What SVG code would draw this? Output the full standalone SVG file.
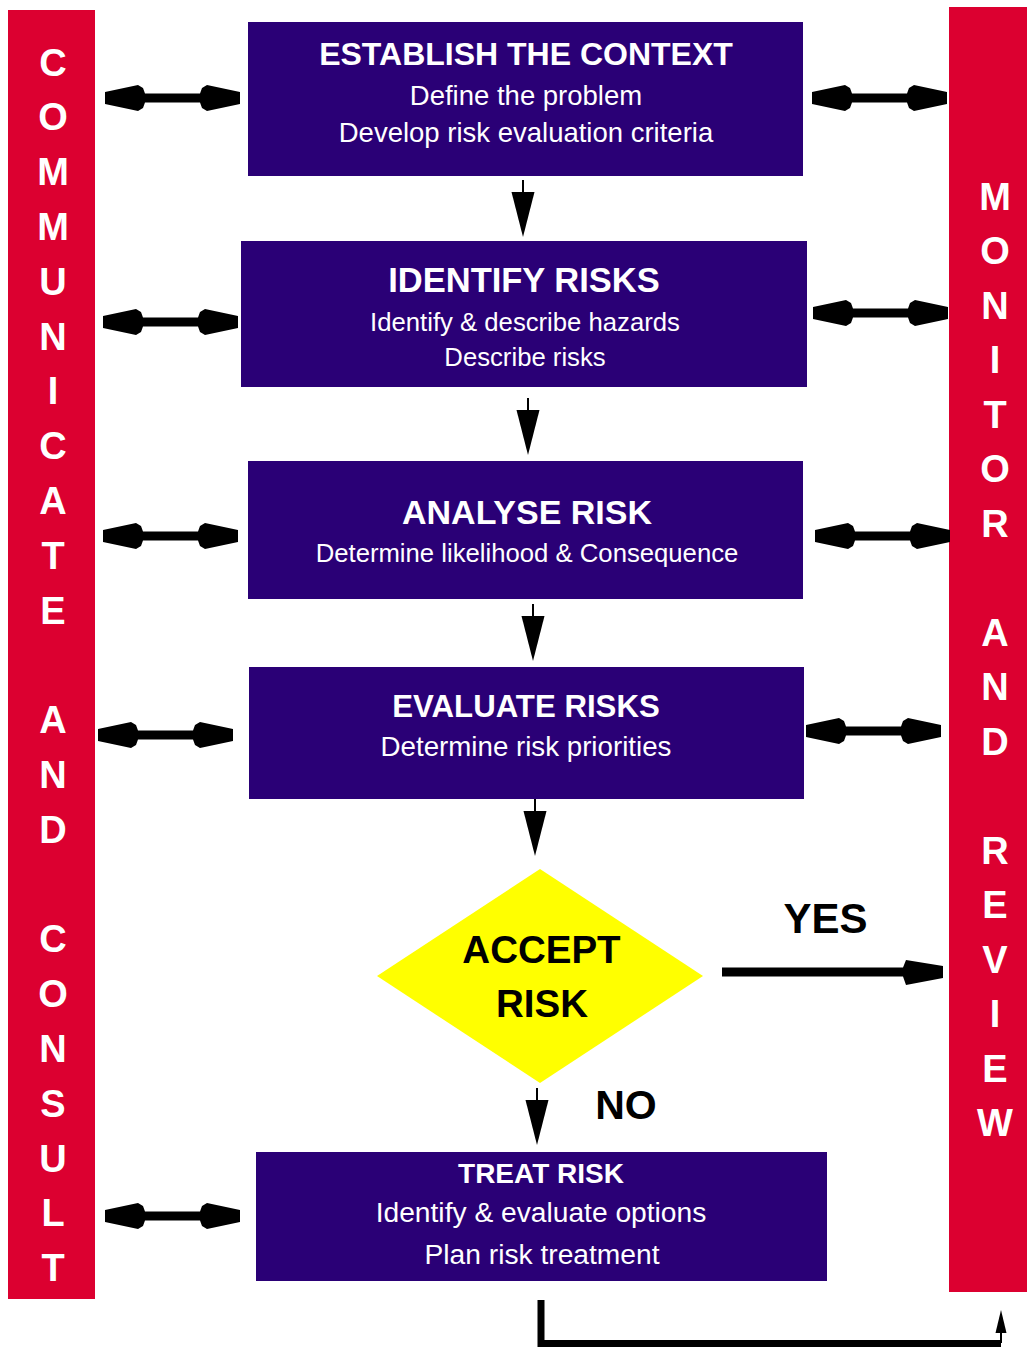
<svg xmlns="http://www.w3.org/2000/svg" xmlns:xlink="http://www.w3.org/1999/xlink" width="1027" height="1347" viewBox="0 0 1027 1347">
<style>
.box{fill:#2A0076}
.bar{fill:#DC0030}
.t{font-family:"Liberation Sans",Arial,sans-serif;fill:#fff;text-anchor:middle}
.b{font-weight:bold}
.bl{font-family:"Liberation Sans",Arial,sans-serif;font-weight:bold;font-size:38px;fill:#fff;text-anchor:middle}
.k{font-family:"Liberation Sans",Arial,sans-serif;font-weight:bold;fill:#000;text-anchor:middle}
</style>
<defs>
<path id="dbl" d="M0,-6 L33,-13 L38,-10 L40,-4.5 L95,-4.5 L97,-10 L102,-13 L135,-6 L135,6 L102,13 L97,10 L95,4.5 L40,4.5 L38,10 L33,13 L0,6 Z" fill="#000"/>
<g id="dn">
<line x1="0" y1="0" x2="0" y2="12" stroke="#000" stroke-width="2"/>
<polygon points="-11.5,12 11.5,12 0,57" fill="#000"/>
</g>
</defs>
<rect width="1027" height="1347" fill="#fff"/>

<g id="communicate">
<rect class="bar" x="8" y="10" width="87" height="1289"/>
<text class="bl">
<tspan x="53" y="75.6">C</tspan><tspan x="53" y="130.4">O</tspan><tspan x="53" y="185.2">M</tspan><tspan x="53" y="240">M</tspan><tspan x="53" y="294.8">U</tspan><tspan x="53" y="349.6">N</tspan><tspan x="53" y="404.4">I</tspan><tspan x="53" y="459.2">C</tspan><tspan x="53" y="514">A</tspan><tspan x="53" y="568.8">T</tspan><tspan x="53" y="623.6">E</tspan><tspan x="53" y="733.2">A</tspan><tspan x="53" y="788">N</tspan><tspan x="53" y="842.8">D</tspan><tspan x="53" y="952.4">C</tspan><tspan x="53" y="1007.2">O</tspan><tspan x="53" y="1062">N</tspan><tspan x="53" y="1116.8">S</tspan><tspan x="53" y="1171.6">U</tspan><tspan x="53" y="1226.4">L</tspan><tspan x="53" y="1281.2">T</tspan>
</text>
</g>

<g id="monitor">
<rect class="bar" x="949" y="7" width="78" height="1285"/>
<text class="bl">
<tspan x="995" y="209.6">M</tspan><tspan x="995" y="264.1">O</tspan><tspan x="995" y="318.6">N</tspan><tspan x="995" y="373.1">I</tspan><tspan x="995" y="427.6">T</tspan><tspan x="995" y="482.1">O</tspan><tspan x="995" y="536.6">R</tspan><tspan x="995" y="645.6">A</tspan><tspan x="995" y="700.1">N</tspan><tspan x="995" y="754.6">D</tspan><tspan x="995" y="863.6">R</tspan><tspan x="995" y="918.1">E</tspan><tspan x="995" y="972.6">V</tspan><tspan x="995" y="1027.1">I</tspan><tspan x="995" y="1081.6">E</tspan><tspan x="995" y="1136.1">W</tspan>
</text>
</g>

<g id="context">
<rect class="box" x="248" y="22" width="555" height="154"/>
<text class="t b" x="526" y="65" font-size="32">ESTABLISH THE CONTEXT</text>
<text class="t" x="526" y="105" font-size="27.5">Define the problem</text>
<text class="t" x="526" y="142" font-size="27.5">Develop risk evaluation criteria</text>
</g>

<g id="identify">
<rect class="box" x="241" y="241" width="566" height="146"/>
<text class="t b" x="524" y="292" font-size="34.5">IDENTIFY RISKS</text>
<text class="t" x="525" y="331" font-size="25.7">Identify &amp; describe hazards</text>
<text class="t" x="525" y="366" font-size="25.7">Describe risks</text>
</g>

<g id="analyse">
<rect class="box" x="248" y="461" width="555" height="138"/>
<text class="t b" x="527" y="524" font-size="34">ANALYSE RISK</text>
<text class="t" x="527" y="562" font-size="25.7">Determine likelihood &amp; Consequence</text>
</g>

<g id="evaluate">
<rect class="box" x="249" y="667" width="555" height="132"/>
<text class="t b" x="526" y="717" font-size="31.2">EVALUATE RISKS</text>
<text class="t" x="526" y="756" font-size="27.7">Determine risk priorities</text>
</g>

<g id="accept">
<polygon points="540,869 703,976 540,1083 377,976" fill="#FFFF00"/>
<text class="k" x="541.5" y="963" font-size="38.5">ACCEPT</text>
<text class="k" x="542" y="1017" font-size="38.5">RISK</text>
</g>

<g id="treat">
<rect class="box" x="256" y="1152" width="571" height="129"/>
<text class="t b" x="541" y="1183" font-size="28">TREAT RISK</text>
<text class="t" x="541" y="1222" font-size="28.2">Identify &amp; evaluate options</text>
<text class="t" x="542" y="1264" font-size="28.2">Plan risk treatment</text>
</g>

<g id="connectors">
<use xlink:href="#dbl" transform="translate(105,98)"/>
<use xlink:href="#dbl" transform="translate(103,322)"/>
<use xlink:href="#dbl" transform="translate(103,536)"/>
<use xlink:href="#dbl" transform="translate(98,735)"/>
<use xlink:href="#dbl" transform="translate(105,1216)"/>
<use xlink:href="#dbl" transform="translate(812,98)"/>
<use xlink:href="#dbl" transform="translate(813,313)"/>
<use xlink:href="#dbl" transform="translate(815,536)"/>
<use xlink:href="#dbl" transform="translate(806,731)"/>
<use xlink:href="#dn" transform="translate(523,180)"/>
<use xlink:href="#dn" transform="translate(528,398)"/>
<use xlink:href="#dn" transform="translate(533,604)"/>
<use xlink:href="#dn" transform="translate(535,799)"/>
<use xlink:href="#dn" transform="translate(537,1088)"/>
<path d="M722,967.5 H903 L906,960 L943,966 L943,978 L906,985 L903,976.5 H722 Z" fill="#000"/>
<polyline points="541,1300 541,1343.5 1001,1343.5" fill="none" stroke="#000" stroke-width="7"/>
<line x1="1001" y1="1343" x2="1001" y2="1330" stroke="#000" stroke-width="2"/>
<polygon points="995.5,1333 1006.5,1333 1001,1310" fill="#000"/>
<text class="k" x="825.5" y="933" font-size="42">YES</text>
<text class="k" x="626" y="1119" font-size="41">NO</text>
</g>
</svg>
